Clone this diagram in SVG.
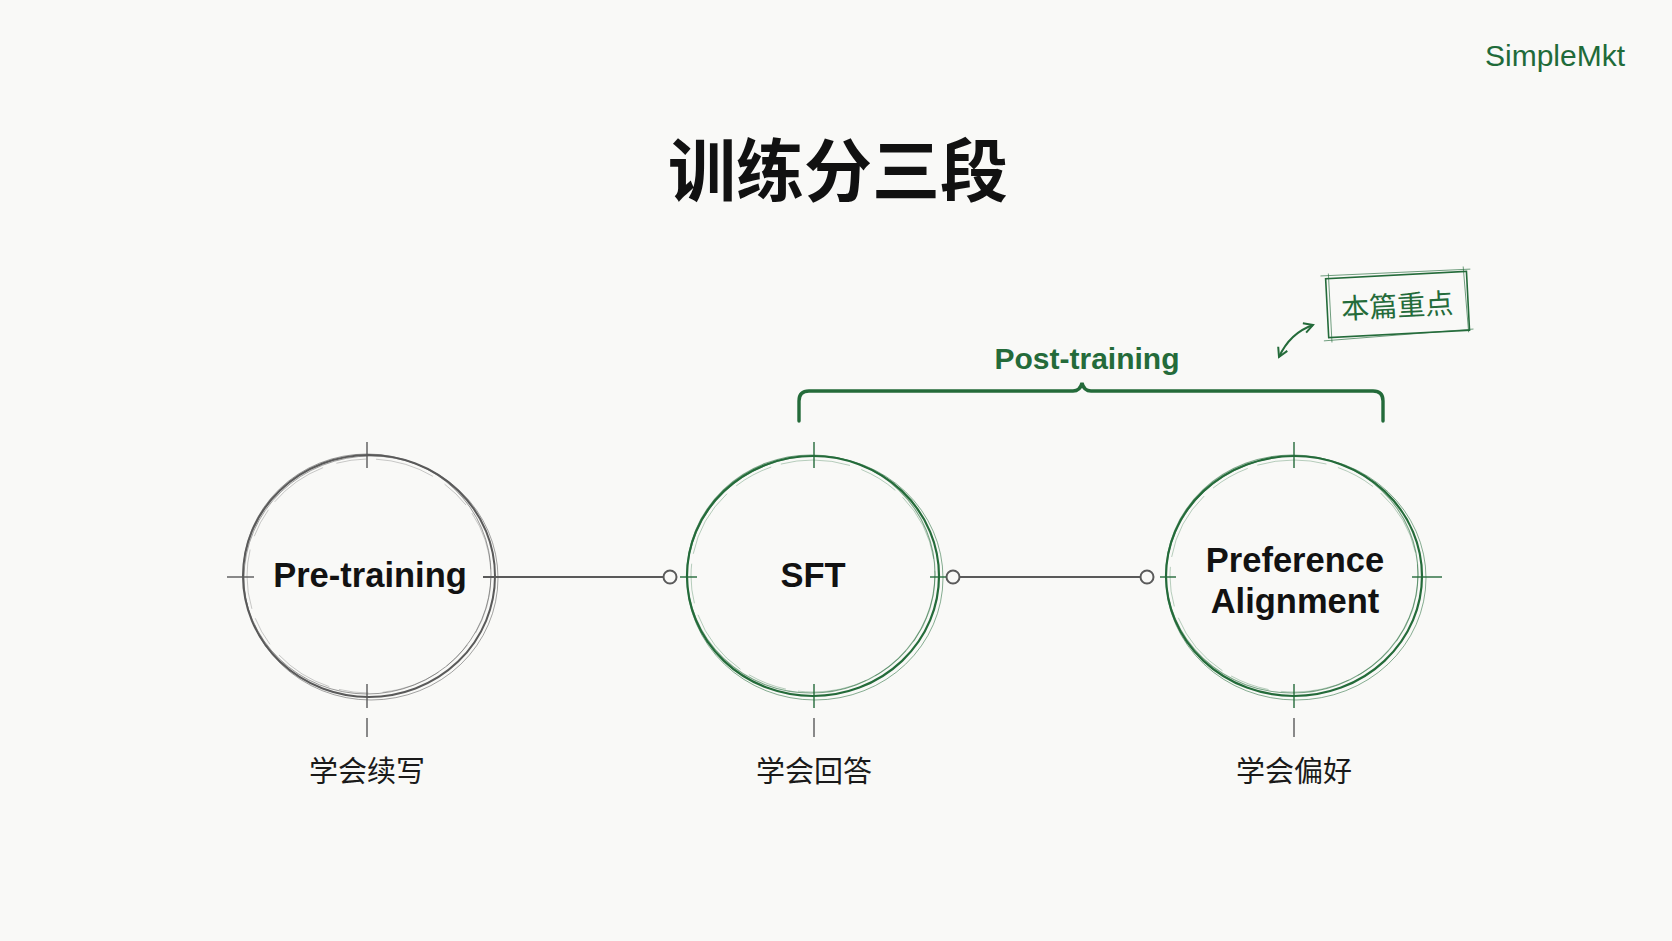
<svg xmlns="http://www.w3.org/2000/svg" width="1672" height="941" viewBox="0 0 1672 941">
<defs>
<style>
.bg{fill:#f9f9f7}
.ring-g{fill:none;stroke:#246b3a}
.ring-k{fill:none;stroke:#5a5a5a}
.tick-g{stroke:#246b3a;stroke-width:1.4}
.tick-k{stroke:#5a5a5a;stroke-width:1.4}
.lbl{font-family:"Liberation Sans",Arial,sans-serif;font-weight:700;font-size:34.5px;fill:#121212;text-anchor:middle}
.sub{font-family:"Noto Sans CJK SC","Noto Sans",sans-serif;font-weight:400;font-size:29px;fill:#1a1a1a;text-anchor:middle}
.conn{stroke:#5a5a5a;stroke-width:2;fill:none}
.green{fill:#246b3a}
</style>
<marker id="dot" viewBox="-8 -8 16 16" markerWidth="16" markerHeight="16" markerUnits="userSpaceOnUse" refX="0" refY="0">
<circle r="6.5" fill="#f9f9f7" stroke="#5a5a5a" stroke-width="2"/>
</marker>
<marker id="ah" viewBox="0 0 12 12" markerWidth="12" markerHeight="12" markerUnits="userSpaceOnUse" refX="10" refY="6" orient="auto-start-reverse">
<path d="M1,1 L10,6 L1,11" fill="none" stroke="#246b3a" stroke-width="2"/>
</marker>
</defs>
<rect class="bg" x="0" y="0" width="1672" height="941"/>

<text x="1625" y="66" font-family="'Liberation Sans',Arial,sans-serif" font-size="30" fill="#1f6b3a" text-anchor="end">SimpleMkt</text>

<text x="838" y="196" font-family="'Noto Sans CJK SC',sans-serif" font-weight="700" font-size="68" fill="#111" text-anchor="middle">训练分三段</text>

<g id="connectors">
<line class="conn" x1="483" y1="577" x2="670" y2="577" marker-end="url(#dot)"/>
<line class="conn" x1="953" y1="577" x2="1147" y2="577" marker-start="url(#dot)" marker-end="url(#dot)"/>
</g>

<g id="post-training">
<text x="1087" y="369" font-family="'Liberation Sans',Arial,sans-serif" font-weight="700" font-size="30" class="green" text-anchor="middle">Post-training</text>
<path d="M799,421 L799,401 Q799,391 809,391 L1073,391 Q1080,391 1082,383 Q1084,391 1091,391 L1373,391 Q1383,391 1383,401 L1383,421" fill="none" stroke="#246b3a" stroke-width="3.4" stroke-linecap="round"/>
</g>

<g id="tag">
<path d="M1279,357 Q1290,333 1313,325" fill="none" stroke="#246b3a" stroke-width="2" marker-start="url(#ah)" marker-end="url(#ah)"/>
<g transform="rotate(-3 1397 303)">
<rect x="1327" y="275" width="141" height="59" fill="none" stroke="#246b3a" stroke-width="1.6"/>
<path d="M1322,272 L1472,273 M1330,270 L1330,339 M1465,270 L1467,336 M1322,337 L1472,333" fill="none" stroke="#246b3a" stroke-width="0.9" opacity="0.7"/>
<text x="1397" y="316" font-family="'Noto Sans CJK SC',sans-serif" font-weight="400" font-size="28" class="green" text-anchor="middle">本篇重点</text>
</g>
</g>

<g id="node-pretraining">
<ellipse class="ring-k" cx="369" cy="576" rx="126" ry="121" stroke-width="2"/>
<ellipse class="ring-k" cx="367" cy="574" rx="124" ry="120" stroke-width="1" opacity="0.6"/>
<ellipse class="ring-k" cx="371" cy="578" rx="127" ry="122" stroke-width="1" opacity="0.55"/>
<ellipse class="ring-k" cx="369" cy="576" rx="122" ry="117" stroke-width="0.8" opacity="0.4" stroke-dasharray="60 14 30 10"/>
<line class="tick-k" x1="367" y1="442" x2="367" y2="468"/>
<line class="tick-k" x1="367" y1="684" x2="367" y2="708"/>
<line class="tick-k" x1="227" y1="577" x2="254" y2="577"/>
<line class="tick-k" x1="367" y1="718" x2="367" y2="737"/>
<text class="lbl" x="370" y="587">Pre-training</text>
<text class="sub" x="367" y="782">学会续写</text>
</g>

<g id="node-sft">
<ellipse class="ring-g" cx="813" cy="576" rx="126" ry="120" stroke-width="2.2"/>
<ellipse class="ring-g" cx="811" cy="574" rx="124" ry="119" stroke-width="1.1" opacity="0.6"/>
<ellipse class="ring-g" cx="815" cy="578" rx="128" ry="122" stroke-width="1" opacity="0.55"/>
<ellipse class="ring-g" cx="813" cy="576" rx="122" ry="116" stroke-width="0.8" opacity="0.4" stroke-dasharray="70 12 40 10"/>
<line class="tick-g" x1="814" y1="442" x2="814" y2="468"/>
<line class="tick-g" x1="814" y1="684" x2="814" y2="708"/>
<line class="tick-g" x1="680" y1="577" x2="697" y2="577"/>
<line class="tick-g" x1="930" y1="577" x2="946" y2="577"/>
<line class="tick-k" x1="814" y1="718" x2="814" y2="737"/>
<text class="lbl" x="813" y="587">SFT</text>
<text class="sub" x="814" y="782">学会回答</text>
</g>

<g id="node-preference">
<ellipse class="ring-g" cx="1294" cy="576" rx="128" ry="120" stroke-width="2.2"/>
<ellipse class="ring-g" cx="1292" cy="574" rx="126" ry="119" stroke-width="1.1" opacity="0.6"/>
<ellipse class="ring-g" cx="1296" cy="578" rx="130" ry="122" stroke-width="1" opacity="0.55"/>
<ellipse class="ring-g" cx="1294" cy="576" rx="124" ry="116" stroke-width="0.8" opacity="0.4" stroke-dasharray="70 12 40 10"/>
<line class="tick-g" x1="1294" y1="442" x2="1294" y2="468"/>
<line class="tick-g" x1="1294" y1="684" x2="1294" y2="708"/>
<line class="tick-g" x1="1160" y1="577" x2="1176" y2="577"/>
<line class="tick-g" x1="1412" y1="577" x2="1442" y2="577"/>
<line class="tick-k" x1="1294" y1="718" x2="1294" y2="737"/>
<text class="lbl" x="1295" y="572">Preference</text>
<text class="lbl" x="1295" y="613">Alignment</text>
<text class="sub" x="1294" y="782">学会偏好</text>
</g>
</svg>
